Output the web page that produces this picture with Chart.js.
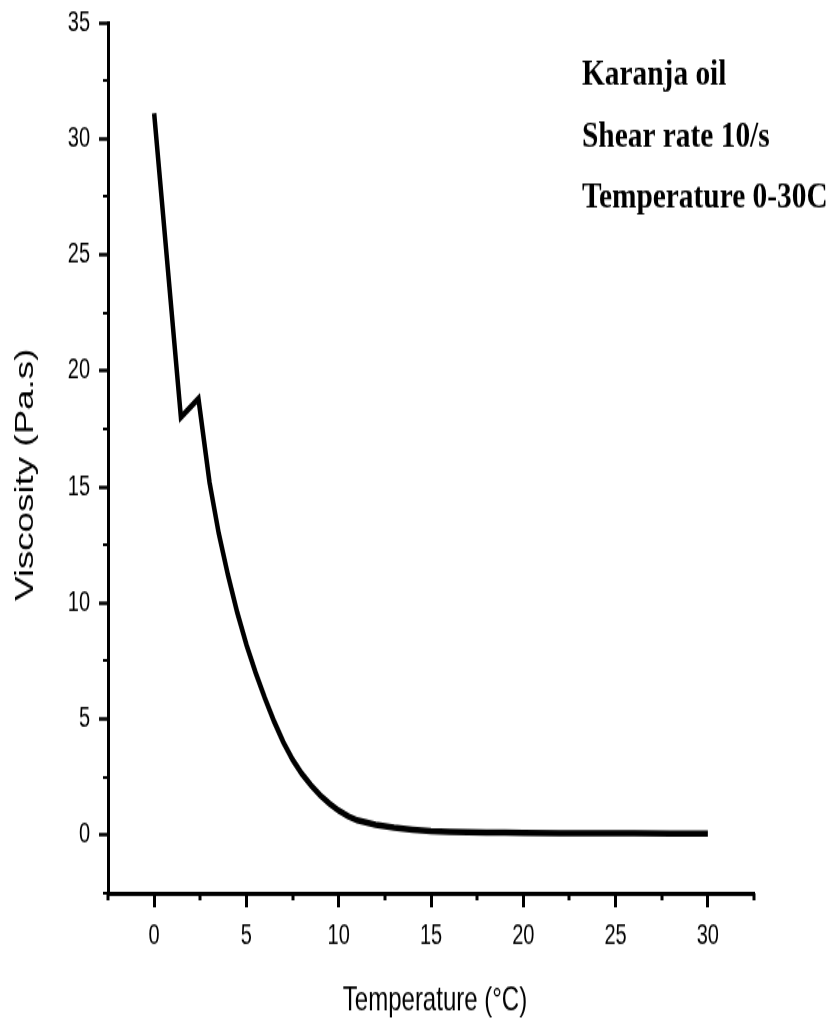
<!DOCTYPE html>
<html>
<head>
<meta charset="utf-8">
<title>Karanja oil viscosity</title>
<script src="https://cdn.jsdelivr.net/npm/chart.js@4/dist/chart.umd.min.js"></script>
<style>
  html, body { margin: 0; padding: 0; background: #ffffff; }
</style>
</head>
<body>
<canvas id="chart" width="838" height="725" style="display:block;width:838px;height:1023px;"></canvas>
<script>
// Measured viscosity of Karanja oil against temperature
const temperature = [0, 1.45, 2.4, 3.0, 3.5, 4.0, 4.5, 5.0, 5.5, 6.0, 6.5, 7.0, 7.5, 8.0, 8.5, 9.0, 9.5, 10.0, 10.5, 11.0, 12.0, 13.0, 14.0, 15.0, 16.0, 17.0, 18.0, 19.0, 20.0, 22.0, 24.0, 26.0, 28.0, 30.0];
const viscosity = [31.1, 18.0, 18.8, 15.2, 13.0, 11.2, 9.6, 8.2, 7.0, 5.9, 4.9, 4.0, 3.25, 2.65, 2.15, 1.72, 1.36, 1.06, 0.82, 0.64, 0.45, 0.32, 0.24, 0.18, 0.15, 0.13, 0.12, 0.11, 0.10, 0.09, 0.08, 0.08, 0.07, 0.07];

// Axis ticks
const xMajorTicks = [0, 5, 10, 15, 20, 25, 30];
const xMinorTicks = [-2.5, 2.5, 7.5, 12.5, 17.5, 22.5, 27.5, 32.5];
const yMajorTicks = [0, 5, 10, 15, 20, 25, 30, 35];
const yMinorTicks = [-2.5, 2.5, 7.5, 12.5, 17.5, 22.5, 27.5, 32.5];

// Texts
const xAxisTitle = 'Temperature (°C)';
const yAxisTitle = 'Viscosity (Pa.s)';
const noteLines = ['Karanja oil', 'Shear rate 10/s', 'Temperature 0-30C'];

const SANS = '"Liberation Sans", Arial, sans-serif';
const SERIF = '"Liberation Serif", "Times New Roman", serif';

const points = temperature.map((t, i) => ({ x: t, y: viscosity[i] }));

// Minor ticks, axis titles and the note block
const decorations = {
  id: 'decorations',
  afterDraw(chart) {
    const { ctx, chartArea, scales } = chart;
    const xs = scales.x, ys = scales.y;
    ctx.save();
    ctx.strokeStyle = '#000';
    ctx.lineWidth = 3;
    xMinorTicks.forEach(v => {
      const px = Math.round(xs.getPixelForValue(v));
      ctx.beginPath();
      ctx.moveTo(px, chartArea.bottom);
      ctx.lineTo(px, chartArea.bottom + 5);
      ctx.stroke();
    });
    ctx.lineWidth = 2;
    yMinorTicks.forEach(v => {
      const py = Math.round(ys.getPixelForValue(v));
      ctx.beginPath();
      ctx.moveTo(chartArea.left - 5, py);
      ctx.lineTo(chartArea.left, py);
      ctx.stroke();
    });

    ctx.fillStyle = '#000';
    // x axis title
    ctx.font = '24px ' + SANS;
    ctx.textAlign = 'center';
    ctx.textBaseline = 'alphabetic';
    ctx.fillText(xAxisTitle, (chartArea.left + chartArea.right) / 2 + 4, chartArea.bottom + 83);

    // y axis title
    ctx.save();
    ctx.translate(33, (chartArea.top + chartArea.bottom) / 2 + 12);
    ctx.rotate(-Math.PI / 2);
    ctx.font = '26px ' + SANS;
    ctx.textAlign = 'center';
    ctx.textBaseline = 'alphabetic';
    ctx.fillText(yAxisTitle, 0, 0);
    ctx.restore();

    // note block
    ctx.font = 'bold 26px ' + SERIF;
    ctx.textAlign = 'left';
    noteLines.forEach((line, i) => {
      ctx.save();
      ctx.translate(chartArea.left + 474, 60 + i * 43.5);
      ctx.scale(1.13, 1);
      ctx.fillText(line, 0, 0);
      ctx.restore();
    });
    ctx.restore();
  }
};

new Chart(document.getElementById('chart'), {
  type: 'scatter',
  data: {
    datasets: [{
      data: points,
      showLine: true,
      borderColor: '#000',
      borderWidth: 4.5,
      pointRadius: 0,
      pointHoverRadius: 0,
      tension: 0,
      borderJoinStyle: 'miter',
      borderCapStyle: 'butt'
    }]
  },
  options: {
    responsive: false,
    animation: false,
    devicePixelRatio: 1,
    layout: { padding: { top: 16, right: 84, left: 0, bottom: 0 } },
    plugins: { legend: { display: false }, tooltip: { enabled: false } },
    scales: {
      x: {
        type: 'linear',
        min: -2.5,
        max: 32.5,
        afterBuildTicks: s => { s.ticks = xMajorTicks.map(v => ({ value: v })); },
        afterFit: s => { s.height = 92; },
        grid: { drawOnChartArea: false, drawTicks: true, tickLength: 10, tickWidth: 3, tickColor: '#000' },
        border: { display: true, color: '#000', width: 3 },
        ticks: { color: '#000', font: { family: SANS, size: 20 }, padding: 8, maxRotation: 0, autoSkip: false }
      },
      y: {
        type: 'linear',
        min: -2.5,
        max: 35,
        afterBuildTicks: s => { s.ticks = yMajorTicks.map(v => ({ value: v })); },
        afterFit: s => { s.width = 108; s.paddingTop = 0; s.paddingBottom = 0; },
        grid: { drawOnChartArea: false, drawTicks: true, tickLength: 9, tickWidth: 2.5, tickColor: '#000' },
        border: { display: true, color: '#000', width: 3 },
        ticks: { color: '#000', font: { family: SANS, size: 20, lineHeight: 0.6 }, padding: 9, autoSkip: false }
      }
    }
  },
  plugins: [decorations]
});
</script>
</body>
</html>
